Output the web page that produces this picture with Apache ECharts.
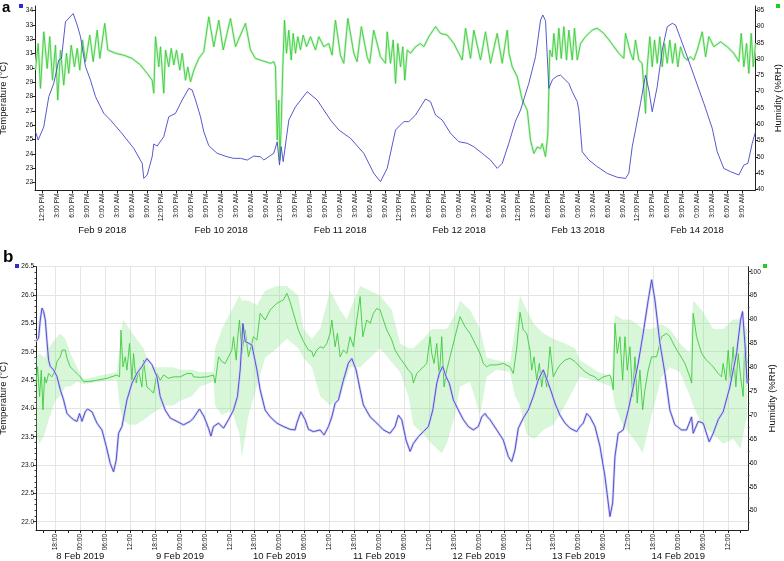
<!DOCTYPE html>
<html><head><meta charset="utf-8">
<script src="https://cdn.jsdelivr.net/npm/echarts@6/dist/echarts.min.js"></script>
<style>html,body{margin:0;padding:0;background:#fff}#c{width:784px;height:561px}</style>
</head><body><div id="c"></div>
<script>
// ---------- Panel a (hours relative to Feb 9 2018 00:00) ----------
const tempA = [[-13.45,25.56],[-12.91,24.98],[-11.78,25.9],[-10.77,28.0],[-9.76,28.93],[-8.75,30.56],[-8.21,30.68],[-7.40,33.23],[-5.85,33.8],[-5.04,33.0],[-4.38,32.2],[-3.37,30.1],[-2.36,29.16],[-1.35,28.0],[0.32,26.84],[1.67,26.37],[3.69,25.56],[6.37,24.40],[8.07,23.35],[8.39,22.3],[9.08,22.54],[10.08,23.81],[10.41,24.7],[11.09,24.56],[12.42,25.21],[13.43,26.6],[14.78,26.84],[16.14,27.77],[17.47,28.58],[18.15,28.47],[18.82,27.77],[19.83,26.6],[20.49,25.56],[21.50,24.58],[23.19,24.05],[25.21,23.81],[26.48,23.7],[27.89,23.7],[29.25,23.58],[30.58,23.86],[31.93,23.81],[32.59,23.58],[34.61,24.05],[35.30,24.86],[35.76,23.23],[36.10,24.51],[36.51,23.47],[37.64,26.37],[38.99,27.3],[41.35,28.35],[43.36,27.77],[46.05,26.37],[47.72,25.68],[50.08,25.1],[52.76,24.05],[54.78,22.65],[56.13,22.07],[57.48,23.0],[59.16,25.68],[60.83,26.26],[61.84,26.26],[63.19,26.72],[65.21,27.84],[66.22,27.65],[67.23,26.72],[68.58,26.37],[70.25,25.45],[71.92,24.86],[73.62,24.75],[74.95,24.51],[76.64,24.05],[78.32,23.58],[79.67,23.0],[80.68,23.35],[82.01,24.75],[83.36,26.3],[84.37,27.07],[86.04,28.93],[87.40,30.79],[88.41,33.35],[88.87,33.7],[89.42,33.3],[90.08,28.58],[90.83,29.2],[91.77,29.44],[92.44,29.5],[94.11,28.93],[94.80,28.35],[95.81,27.65],[96.13,27.07],[96.81,24.16],[98.15,23.58],[99.84,23.12],[101.86,22.65],[103.87,22.38],[105.55,22.3],[106.21,22.65],[106.90,24.51],[107.56,25.68],[108.57,27.54],[109.58,29.51],[110.25,28.47],[110.93,26.95],[111.94,28.7],[112.95,31.26],[113.96,32.88],[114.97,33.12],[115.64,33.0],[116.64,32.07],[117.99,30.79],[119.67,29.16],[121.34,27.54],[123.03,25.8],[124.04,24.16],[125.37,23.0],[126.73,22.77],[128.40,22.54],[129.41,23.23],[130.22,23.35],[131.10,24.75],[131.77,25.56]];

const humA = [[-13.45,76.6],[-12.91,84.8],[-12.45,71.0],[-11.78,88.4],[-11.09,77.1],[-10.57,86.9],[-10.02,73.5],[-9.42,84.3],[-8.96,67.4],[-8.41,82.8],[-7.75,72.0],[-7.2,81.8],[-6.74,75.6],[-6.25,84.3],[-5.59,77.6],[-5.04,83.3],[-4.52,76.6],[-3.97,85.9],[-3.37,79.2],[-2.5,87.4],[-1.82,79.2],[-1.01,88.9],[-0.48,80.2],[0.52,91.0],[1.13,82.8],[2.68,81.8],[4.36,81.2],[6.05,80.2],[7.73,78.2],[9.08,75.6],[10.08,73.5],[10.41,69.5],[10.75,86.9],[11.42,77.6],[11.76,83.8],[12.42,69.5],[12.77,82.8],[13.43,77.6],[13.92,83.3],[14.44,78.2],[14.99,82.8],[15.65,76.6],[16.14,81.8],[16.8,73.5],[17.27,77.6],[17.81,73.0],[18.48,76.6],[19.48,80.2],[20.49,82.3],[21.5,93.0],[22.51,83.8],[23.52,92.0],[24.41,82.8],[25.88,92.5],[26.89,83.8],[28.9,91.0],[29.91,82.8],[30.92,80.2],[31.93,79.7],[33.95,78.7],[34.61,79.2],[34.95,77.6],[35.3,55.1],[35.62,67.4],[35.82,48.9],[36.1,59.2],[36.43,77.6],[36.77,92.0],[37.17,81.8],[37.64,88.9],[38.12,79.7],[38.52,87.9],[38.99,81.8],[39.45,86.9],[39.99,82.8],[40.54,87.4],[41.21,83.8],[42.01,86.9],[43.02,82.8],[43.69,86.9],[44.7,83.8],[45.7,84.8],[46.37,81.2],[47.04,92.0],[48.06,81.2],[48.73,78.7],[49.54,92.5],[50.75,81.8],[51.41,79.2],[52.27,90.0],[53.43,80.7],[53.95,78.7],[54.76,88.9],[56.13,80.7],[57.14,78.7],[57.48,88.4],[58.15,78.7],[58.69,85.9],[59.16,72.5],[59.62,84.8],[60.17,77.6],[60.63,83.8],[61.03,73.5],[61.52,82.8],[62.18,81.8],[63.19,83.8],[64.2,84.8],[64.87,83.8],[65.88,86.9],[67.23,90.0],[68.23,87.9],[69.58,87.4],[70.92,84.8],[71.92,81.8],[72.61,79.7],[73.28,89.5],[74.29,80.2],[74.95,88.9],[76.3,79.7],[77.31,88.4],[78.32,78.7],[79.67,87.9],[80.68,78.7],[81.69,88.9],[82.05,81.8],[82.7,77.6],[83.71,74.6],[84.72,67.4],[85.73,64.3],[86.39,55.1],[87.06,51.0],[87.75,53.0],[88.41,52.5],[88.75,54.1],[89.41,50.0],[89.88,57.1],[90.28,82.8],[90.76,80.7],[91.09,87.9],[91.63,79.7],[92.1,89.5],[92.58,80.2],[93.11,90.0],[93.65,79.7],[94.11,88.9],[94.8,79.7],[95.26,89.5],[95.81,79.7],[96.47,84.8],[97.48,86.9],[98.83,88.9],[99.84,89.5],[101.17,87.9],[102.52,85.3],[104.19,81.8],[105.2,80.2],[105.55,87.9],[106.56,81.8],[107.1,79.7],[107.56,85.9],[108.23,79.7],[108.9,78.7],[109.58,63.3],[109.92,77.6],[110.45,86.9],[110.93,77.6],[111.4,85.9],[111.94,78.7],[112.47,86.9],[112.95,77.6],[113.41,84.8],[113.96,78.7],[114.48,85.9],[115.03,78.7],[115.57,84.8],[116.1,77.6],[116.64,83.8],[117.31,80.7],[117.99,79.7],[118.66,80.7],[119.32,79.7],[120.01,82.8],[121.02,88.4],[121.69,80.7],[122.35,86.9],[123.36,83.8],[124.71,85.3],[126.06,83.8],[127.39,81.8],[128.4,79.2],[128.89,87.9],[129.41,77.6],[129.96,84.8],[130.42,75.6],[130.9,87.9],[131.3,77.6],[131.77,84.8]];

// ---------- Panel b (hours relative to 8 Feb 2019 00:00) ----------
const tempB = [[-10.66,25.18],[-10.04,25.24],[-9.63,25.56],[-9.22,25.77],[-8.83,25.71],[-8.42,25.56],[-8.01,25.18],[-7.63,24.85],[-7.22,24.74],[-6.43,24.68],[-5.61,24.56],[-4.81,24.33],[-4.02,24.15],[-3.2,23.91],[-2.41,23.85],[-1.61,23.80],[-0.79,23.77],[-0.17,23.91],[0.41,23.77],[1.2,23.94],[1.76,23.99],[2.82,23.94],[4.02,23.74],[5.22,23.62],[6.26,23.33],[7.22,23.03],[8.01,22.88],[8.66,23.09],[9.22,23.56],[10.04,23.68],[11.24,24.15],[12.44,24.44],[13.65,24.62],[14.85,24.74],[16.05,24.88],[17.26,24.77],[18.46,24.56],[19.25,24.21],[20.46,23.97],[21.66,23.83],[23.27,23.77],[24.86,23.71],[26.47,23.77],[27.27,23.83],[28.71,23.99],[29.84,23.85],[30.88,23.65],[31.46,23.51],[32.08,23.68],[33.29,23.74],[34.49,23.65],[35.69,23.80],[36.9,23.97],[37.86,24.21],[38.51,24.68],[39.16,25.50],[39.71,25.18],[40.51,25.15],[41.32,25.12],[42.53,24.68],[43.32,24.33],[44.52,23.97],[45.73,23.85],[47.34,23.74],[48.93,23.68],[50.54,23.63],[51.74,23.62],[52.15,23.74],[53.12,23.94],[54.15,23.80],[54.95,23.63],[56.15,23.59],[57.76,23.62],[58.72,23.53],[59.76,23.68],[60.58,23.85],[61.37,24.09],[62.17,24.15],[63.37,24.50],[64.57,24.80],[65.39,24.88],[66.43,24.68],[67.39,24.33],[68.18,24.06],[69.8,23.85],[71.41,23.74],[73.0,23.62],[74.61,23.56],[75.81,23.68],[76.61,23.88],[77.42,23.80],[78.46,23.44],[79.42,23.24],[80.22,23.38],[81.42,23.50],[82.62,23.59],[83.83,23.68],[84.89,23.97],[85.85,24.44],[86.47,24.62],[87.29,24.74],[88.09,24.56],[88.88,24.44],[89.84,24.15],[91.05,23.97],[92.25,23.80],[93.45,23.68],[94.66,23.62],[95.86,23.68],[96.68,23.85],[97.47,23.91],[98.03,23.85],[98.68,23.80],[100.29,23.62],[101.88,23.44],[103.08,23.15],[103.9,23.06],[104.69,23.27],[105.49,23.65],[106.69,23.83],[107.89,23.97],[109.1,24.21],[110.3,24.50],[111.5,24.68],[112.71,24.44],[113.53,24.27],[114.32,24.09],[115.52,23.88],[116.73,23.74],[117.93,23.65],[119.54,23.59],[120.34,23.68],[121.13,23.74],[121.95,23.91],[122.74,23.85],[123.95,23.68],[125.15,23.33],[126.35,22.80],[127.56,22.09],[128.21,22.33],[128.76,23.15],[129.55,23.56],[130.76,23.62],[131.96,23.97],[133.17,24.38],[134.37,24.80],[135.57,25.33],[136.77,25.91],[137.59,26.27],[138.39,25.91],[139.59,25.15],[140.79,24.62],[141.99,23.97],[143.2,23.71],[144.81,23.62],[146.02,23.62],[147.22,23.85],[147.6,23.56],[148.81,23.77],[150.01,23.74],[151.46,23.41],[152.42,23.56],[153.62,23.80],[154.82,23.94],[156.44,24.38],[158.05,24.97],[159.01,25.56],[159.49,25.71],[160.05,25.15],[160.6,24.44]];

const humB = [[-10.66,76.65],[-10.28,80.1],[-9.8,73.9],[-9.39,79.4],[-8.98,71.1],[-8.59,78.0],[-8.18,76.7],[-7.63,78.7],[-6.81,78.0],[-6.02,79.4],[-5.61,81.2],[-4.81,82.2],[-4.4,83.6],[-3.61,83.6],[-3.2,81.9],[-2.41,80.1],[-1.61,79.4],[-0.79,78.7],[0,78.0],[0.79,77.0],[2.0,77.0],[4.02,77.3],[6.43,77.7],[8.83,78.4],[9.46,78.0],[9.8,87.8],[10.28,80.1],[10.83,82.2],[11.24,79.4],[11.87,85.0],[12.44,77.3],[12.83,82.9],[13.48,76.7],[14.03,79.4],[14.85,75.9],[15.23,81.5],[16.05,75.9],[16.85,75.3],[17.64,74.6],[18.46,78.7],[19.25,77.3],[20.05,78.4],[21.25,77.7],[22.45,78.0],[24.07,78.0],[25.68,78.7],[26.88,78.7],[27.27,78.0],[28.88,77.9],[30.49,78.0],[32.08,78.4],[32.49,76.7],[33.29,82.2],[34.1,81.2],[34.9,80.8],[35.69,82.2],[36.51,83.6],[36.9,86.4],[37.55,81.5],[37.86,85.7],[38.34,89.9],[38.92,82.9],[39.71,87.8],[40.51,82.2],[41.71,86.4],[42.53,85.7],[43.32,91.3],[44.52,89.9],[45.73,92.0],[47.34,93.4],[48.93,94.1],[49.75,95.5],[50.54,93.7],[51.33,91.3],[52.53,87.8],[53.74,85.4],[54.95,83.6],[55.77,83.3],[56.15,82.2],[56.97,83.6],[57.76,84.3],[58.56,84.0],[59.37,85.0],[60.17,87.1],[60.58,89.9],[61.37,84.3],[61.93,87.1],[62.58,82.2],[63.37,83.6],[64.19,82.9],[64.98,86.4],[65.78,84.3],[66.6,89.9],[67.39,94.8],[68.04,86.4],[69.0,89.9],[69.8,89.2],[70.59,91.3],[71.41,92.3],[72.2,92.0],[73.0,89.9],[73.81,87.8],[75.02,85.7],[75.81,83.6],[77.02,81.9],[78.22,80.5],[79.01,79.4],[79.83,78.7],[80.22,76.7],[81.03,78.7],[81.83,79.4],[82.62,80.1],[83.44,80.8],[84.24,86.4],[84.64,82.9],[85.2,80.8],[85.85,85.0],[86.47,78.0],[87.05,86.4],[87.61,75.9],[88.25,79.4],[89.05,82.2],[90.25,86.4],[91.46,90.6],[92.66,88.5],[93.86,87.1],[95.07,85.0],[96.27,82.9],[97.06,80.8],[97.88,80.1],[98.68,80.5],[100.29,80.5],[101.88,80.8],[103.49,80.1],[104.28,78.7],[104.69,78.7],[105.1,84.0],[105.9,91.5],[106.69,87.8],[107.51,87.1],[108.3,83.6],[108.71,79.4],[109.27,82.2],[109.92,77.3],[110.54,80.8],[111.12,75.9],[111.67,79.4],[112.32,75.9],[113.12,84.3],[113.91,78.0],[114.73,79.4],[115.52,80.5],[116.73,81.5],[117.93,81.9],[119.13,81.2],[120.34,80.1],[121.54,79.1],[122.74,78.4],[123.95,78.0],[124.74,77.3],[125.95,78.0],[127.56,78.4],[127.96,77.3],[128.35,75.3],[128.76,89.2],[129.31,82.9],[129.96,86.4],[130.61,77.3],[131.17,86.4],[131.72,79.4],[132.37,84.3],[133.02,73.9],[133.57,82.2],[134.12,72.5],[134.78,79.4],[135.43,71.1],[135.98,75.3],[136.77,79.4],[137.59,82.2],[138.79,82.2],[139.99,86.4],[141.2,87.1],[141.99,86.4],[143.2,84.3],[144.4,82.6],[145.61,80.8],[146.81,78.0],[147.22,76.7],[147.6,91.3],[148.42,86.4],[149.62,82.9],[150.82,81.5],[152.42,80.1],[153.62,78.7],[154.42,78.0],[154.82,80.8],[155.48,77.3],[156.03,83.6],[156.6,77.3],[157.23,84.3],[157.88,75.9],[158.44,82.9],[159.01,78.0],[159.64,73.9],[160.05,86.4],[160.6,80.8]];

// humidity min/max envelope, panel b: [hour, low, high]
const humBandB = [[-10.66,66,82],[-9.8,64,83],[-8.6,66,82],[-7.63,69,84],[-6.02,73,86],[-4.81,74,87],[-3.61,76,86],[-2.41,76,83],[-0.79,77,80],[0.79,76.5,77.5],[8.83,77.5,79],[9.46,72,84],[10.28,69,90],[11.87,68,88],[13.48,68,86],[15.23,69,84],[16.85,70,80],[18.46,71,80],[20.05,72,80],[22.45,72,80],[24.07,73,79.5],[26.88,74,79.5],[28.88,76,79],[32.08,77,79],[32.49,72,84],[34.1,70,88],[36.51,71,92],[38.34,66,95],[38.92,61,94],[40.51,70,94],[42.53,76,93],[44.52,82,96],[47.34,84,97],[49.75,86,97],[52.53,84,95],[53.74,82,88],[55.77,80,86],[57.76,74,88],[60.17,72,96],[62.58,74,92],[64.19,78,90],[64.98,80,92],[67.39,80,97],[69.8,82,96],[72.2,84,95],[75.02,81,92],[77.02,79,85],[79.01,74,84],[80.22,68,84],[82.62,66,86],[84.64,64,88],[87.05,62,88],[88.25,64,88],[90.25,70,91],[91.46,76,94],[93.86,77,92],[96.27,70,88],[97.88,78,82],[100.29,79.5,81.5],[103.49,79,81],[104.69,74,88],[105.9,72,95],[107.51,66,92],[109.27,65,89],[111.67,67,87],[113.91,68,86],[116.73,72,85],[119.13,76,84],[120.34,78,81.5],[124.74,77,79],[127.96,76,78],[128.76,72,91],[130.61,68,90],[132.37,66,90],[134.12,64,89],[135.43,62,88],[137.59,70,88],[139.99,78,89],[141.99,80,88],[144.4,79,85],[146.81,74,83],[147.6,72,94],[149.62,68,92],[152.42,66,88],[154.82,64,88],[157.23,65,90],[159.01,63,90],[160.6,70,88]];

// ---------- tick labels ----------
const datesA = ['Feb 9 2018','Feb 10 2018','Feb 11 2018','Feb 12 2018','Feb 13 2018','Feb 14 2018'];
const datesB = ['8 Feb 2019','9 Feb 2019','10 Feb 2019','11 Feb 2019','12 Feb 2019','13 Feb 2019','14 Feb 2019'];
const tempTicksA = [22,23,24,25,26,27,28,29,30,31,32,33,34];
const humTicksA = [40,45,50,55,60,65,70,75,80,85,90,95];
const tempTicksB = [22.0,22.5,23.0,23.5,24.0,24.5,25.0,25.5,26.0,26.5];
const humTicksB = [50,55,60,65,70,75,80,85,90,95,100];

// axis ranges
const xRangeA = [-13.55, 131.66], xRangeB = [-10.66, 160.8];
const tempRangeA = [21.456, 34.328], humRangeA = [39.63, 96.32];
const tempRangeB = [21.854, 26.5], humRangeB = [45.96, 101.05];

const FONT = 'Liberation Sans, Arial, sans-serif';
const BLUE = '#4545c8', GREEN = '#3ccc3c';

function steps(a, b, s){ const r=[]; for(let v=a; v<=b+1e-9; v+=s) r.push(Math.round(v*1000)/1000); return r; }
const hod = h => ((h % 24) + 24) % 24;
function fmtA(h){ const d = hod(h); if (d === 0) return '0:00 AM'; if (d < 12) return d + ':00 AM'; if (d === 12) return '12:00 PM'; return (d-12) + ':00 PM'; }
function fmtB(h){ const d = hod(h); return (d < 10 ? '0' : '') + d + ':00'; }

const ticksA = steps(-12, 129, 3);
const ticksB = steps(-9, 159, 3);
const labelsB = steps(-6, 156, 6);
const dayPosA = datesA.map((_, i) => i * 24);
const dayPosB = datesB.map((_, i) => i * 24);
const minorTempB = steps(22.0, 26.5, 0.1);
const minorHumB = steps(47.5, 100, 2.5);

const lblStyle = {fontFamily: FONT, fontSize: 6.5, color: '#111'};
const axLine = {show: true, onZero: false, lineStyle: {color: '#222', width: 1}};
const noLine = {show: false, onZero: false};
const nameStyle = {fontFamily: FONT, fontSize: 9.5, color: '#111'};

function bandRender(band, color){
  return function(params, api){
    if (params.dataIndex !== 0) return null;
    const pts = [];
    for (let i = 0; i < band.length; i++) pts.push(api.coord([band[i][0], band[i][2]]));
    for (let i = band.length - 1; i >= 0; i--) pts.push(api.coord([band[i][0], band[i][1]]));
    return {type: 'polygon', shape: {points: pts}, style: {fill: color}, silent: true};
  };
}

const chart = echarts.init(document.getElementById('c'), null, {renderer: 'canvas'});
chart.setOption({
  animation: false,
  backgroundColor: '#fff',
  grid: [
    {left: 35, right: 29, top: 6, height: 184.5, outerBoundsMode: 'none', containLabel: false},
    {left: 36, right: 36, top: 266.7, height: 263.3, outerBoundsMode: 'none', containLabel: false}
  ],
  xAxis: [
    {type: 'value', gridIndex: 0, position: 'bottom', min: xRangeA[0], max: xRangeA[1], axisLine: axLine,
     axisTick: {show: true, customValues: ticksA, length: 3, lineStyle: {color: '#222'}},
     axisLabel: Object.assign({customValues: ticksA, rotate: 90, margin: 3, formatter: fmtA}, lblStyle),
     splitLine: {show: false}},
    {type: 'value', gridIndex: 0, position: 'bottom', min: xRangeA[0], max: xRangeA[1], axisLine: noLine, axisTick: {show: false},
     axisLabel: {customValues: dayPosA, margin: 35, fontFamily: FONT, fontSize: 9.5, color: '#111',
       formatter: v => datesA[Math.round(v / 24)]}, splitLine: {show: false}},
    {type: 'value', gridIndex: 1, position: 'bottom', min: xRangeB[0], max: xRangeB[1], axisLine: axLine,
     axisTick: {show: true, customValues: labelsB, length: 3, lineStyle: {color: '#222'}},
     axisLabel: Object.assign({customValues: labelsB, rotate: 90, margin: 4, formatter: fmtB}, lblStyle),
     splitLine: {show: true, lineStyle: {color: '#e4e4e4', width: 1}}},
    {type: 'value', gridIndex: 1, position: 'bottom', min: xRangeB[0], max: xRangeB[1], axisLine: noLine,
     axisTick: {show: true, customValues: ticksB, length: 3, lineStyle: {color: '#222'}},
     axisLabel: {customValues: dayPosB, margin: 21, fontFamily: FONT, fontSize: 9.5, color: '#111',
       formatter: v => datesB[Math.round(v / 24)]}, splitLine: {show: false}}
  ],
  yAxis: [
    {type: 'value', gridIndex: 0, position: 'left', min: tempRangeA[0], max: tempRangeA[1], axisLine: axLine,
     axisTick: {show: true, customValues: tempTicksA, length: 3, lineStyle: {color: '#222'}},
     axisLabel: Object.assign({customValues: tempTicksA, margin: 2}, lblStyle), splitLine: {show: false},
     name: 'Temperature (°C)', nameLocation: 'middle', nameGap: 27, nameMoveOverlap: false, nameTextStyle: nameStyle},
    {type: 'value', gridIndex: 0, position: 'right', min: humRangeA[0], max: humRangeA[1], axisLine: axLine,
     axisTick: {show: true, customValues: humTicksA, length: 3, lineStyle: {color: '#222'}},
     axisLabel: Object.assign({customValues: humTicksA, margin: 2}, lblStyle), splitLine: {show: false},
     name: 'Humidity (%RH)', nameLocation: 'middle', nameGap: 18, nameMoveOverlap: false, nameTextStyle: nameStyle},
    {type: 'value', gridIndex: 1, position: 'left', min: tempRangeB[0], max: tempRangeB[1], axisLine: axLine,
     axisTick: {show: true, customValues: tempTicksB, length: 3, lineStyle: {color: '#222'}},
     axisLabel: Object.assign({customValues: tempTicksB, margin: 2, formatter: v => v.toFixed(1)}, lblStyle),
     splitLine: {show: true, lineStyle: {color: '#e4e4e4', width: 1}},
     name: 'Temperature (°C)', nameLocation: 'middle', nameGap: 28, nameMoveOverlap: false, nameTextStyle: nameStyle},
    {type: 'value', gridIndex: 1, position: 'right', min: humRangeB[0], max: humRangeB[1], axisLine: axLine,
     axisTick: {show: true, customValues: humTicksB, length: 3, lineStyle: {color: '#222'}},
     axisLabel: Object.assign({customValues: humTicksB, margin: 2}, lblStyle), splitLine: {show: false},
     name: 'Humidity (%RH)', nameLocation: 'middle', nameGap: 19, nameMoveOverlap: false, nameTextStyle: nameStyle},
    // minor tick axes for panel b
    {type: 'value', gridIndex: 1, position: 'left', min: tempRangeB[0], max: tempRangeB[1], axisLine: noLine,
     axisTick: {show: true, customValues: minorTempB, length: 1.5, lineStyle: {color: '#444'}},
     axisLabel: {show: false}, splitLine: {show: false}},
    {type: 'value', gridIndex: 1, position: 'right', min: humRangeB[0], max: humRangeB[1], axisLine: noLine,
     axisTick: {show: true, customValues: minorHumB, length: 1.5, lineStyle: {color: '#444'}},
     axisLabel: {show: false}, splitLine: {show: false}}
  ],
  series: [
    {type: 'line', name: 'humA halo', xAxisIndex: 0, yAxisIndex: 1, data: humA, symbol: 'none', silent: true,
     lineStyle: {color: '#cdf4cd', width: 2.5}, z: 1},
    {type: 'line', name: 'humA', xAxisIndex: 0, yAxisIndex: 1, data: humA, symbol: 'none', silent: true,
     lineStyle: {color: GREEN, width: 0.9}, z: 2},
    {type: 'line', name: 'tempA', xAxisIndex: 0, yAxisIndex: 0, data: tempA, symbol: 'none', silent: true,
     lineStyle: {color: BLUE, width: 0.9}, z: 3},
    {type: 'custom', name: 'humB band', xAxisIndex: 2, yAxisIndex: 3, data: humBandB, silent: true,
     renderItem: bandRender(humBandB, 'rgba(125,225,125,0.30)'), encode: {x: 0, y: [1, 2]}, z: 1},
    {type: 'line', name: 'humB', xAxisIndex: 2, yAxisIndex: 3, data: humB, symbol: 'none', silent: true,
     lineStyle: {color: GREEN, width: 0.9}, z: 2},
    {type: 'line', name: 'tempB halo', xAxisIndex: 2, yAxisIndex: 2, data: tempB, symbol: 'none', silent: true,
     lineStyle: {color: '#d2d2f6', width: 2.5}, z: 3},
    {type: 'line', name: 'tempB', xAxisIndex: 2, yAxisIndex: 2, data: tempB, symbol: 'none', silent: true,
     lineStyle: {color: BLUE, width: 0.9}, z: 4}
  ],
  graphic: [
    {type: 'text', left: 2, top: 0, style: {text: 'a', font: 'bold 15px ' + FONT, fill: '#000'}},
    {type: 'text', left: 3, top: 249, style: {text: 'b', font: 'bold 17px ' + FONT, fill: '#000'}},
    {type: 'rect', shape: {x: 19, y: 4, width: 4, height: 4}, style: {fill: '#2b2bd6'}},
    {type: 'rect', shape: {x: 776, y: 4, width: 4, height: 4}, style: {fill: '#22cc22'}},
    {type: 'rect', shape: {x: 15, y: 264, width: 4, height: 4}, style: {fill: '#2b2bd6'}},
    {type: 'rect', shape: {x: 763, y: 264, width: 4, height: 4}, style: {fill: '#22cc22'}}
  ]
});
</script></body></html>
